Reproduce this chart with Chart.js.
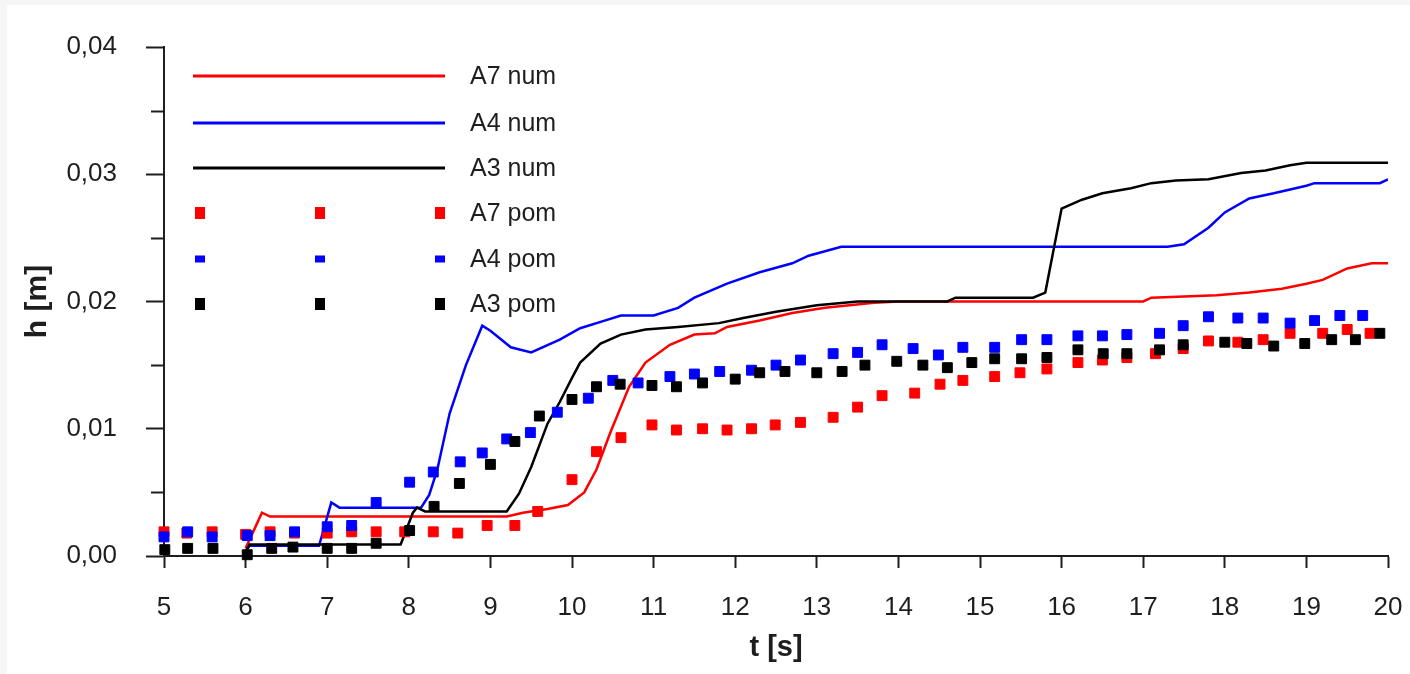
<!DOCTYPE html>
<html>
<head>
<meta charset="utf-8">
<script src="https://cdn.jsdelivr.net/npm/chart.js@4.4.0/dist/chart.umd.min.js"></script>
<style>
  html, body { margin: 0; padding: 0; background: #fff; }
  #wrap { width: 1410px; height: 674px; }
</style>
</head>
<body>
<div id="wrap"><canvas id="hChart" width="1410" height="674"></canvas></div>
<script>
// t [s] / h [m] - numericke krivky
var a7NumT = [6.0, 6.2, 6.3, 9.2, 9.4, 9.7, 9.95, 10.15, 10.3, 10.47, 10.7, 10.9, 11.2, 11.5, 11.75, 11.9, 12.3, 12.7, 13.1, 13.7, 14.0, 17.0, 17.1, 17.9, 18.3, 18.7, 19.0, 19.2, 19.5, 19.8, 20.0];
var a7NumH = [0.0006, 0.0034, 0.0031, 0.0031, 0.0034, 0.0037, 0.0040, 0.0050, 0.0068, 0.0097, 0.0133, 0.0152, 0.0166, 0.0174, 0.0175, 0.0180, 0.0185, 0.0191, 0.0195, 0.0199, 0.0200, 0.0200, 0.0203, 0.0205, 0.0207, 0.0210, 0.0214, 0.0217, 0.0226, 0.0230, 0.0230];

var a4NumT = [6.0, 6.05, 6.9, 7.05, 7.15, 8.15, 8.25, 8.35, 8.5, 8.7, 8.9, 9.0, 9.25, 9.5, 9.85, 10.1, 10.4, 10.6, 11.0, 11.3, 11.5, 11.9, 12.3, 12.7, 12.9, 13.3, 17.3, 17.5, 17.8, 18.0, 18.3, 18.6, 19.0, 19.1, 19.9, 20.0];
var a4NumH = [0.0004, 0.0008, 0.0008, 0.0042, 0.0038, 0.0038, 0.0048, 0.0068, 0.0112, 0.0150, 0.0181, 0.0177, 0.0164, 0.0160, 0.0170, 0.0179, 0.0185, 0.0189, 0.0189, 0.0195, 0.0203, 0.0214, 0.0223, 0.0230, 0.0236, 0.0243, 0.0243, 0.0245, 0.0258, 0.0270, 0.0281, 0.0285, 0.0291, 0.0293, 0.0293, 0.0296];

var a3NumT = [6.0, 6.05, 7.9, 8.05, 8.1, 8.2, 9.2, 9.35, 9.5, 9.7, 9.85, 10.0, 10.1, 10.35, 10.6, 10.9, 11.3, 11.8, 12.1, 12.5, 13.0, 13.5, 14.6, 14.7, 15.65, 15.8, 16.0, 16.25, 16.5, 16.85, 17.1, 17.4, 17.8, 18.2, 18.5, 18.8, 19.0, 20.0];
var a3NumH = [0.0003, 0.0009, 0.0009, 0.0034, 0.0038, 0.0035, 0.0035, 0.0049, 0.0070, 0.0104, 0.0121, 0.0140, 0.0152, 0.0167, 0.0174, 0.0178, 0.0180, 0.0183, 0.0187, 0.0192, 0.0197, 0.0200, 0.0200, 0.0203, 0.0203, 0.0207, 0.0273, 0.0280, 0.0285, 0.0289, 0.0293, 0.0295, 0.0296, 0.0301, 0.0303, 0.0307, 0.0309, 0.0309];

// mereni (pom)
var a7PomT = [5.0, 5.28, 5.59, 6.0, 6.3, 6.6, 7.0, 7.3, 7.6, 7.95, 8.3, 8.6, 8.96, 9.3, 9.58, 10.0, 10.3, 10.6, 10.98, 11.28, 11.6, 11.9, 12.2, 12.49, 12.8, 13.2, 13.5, 13.8, 14.2, 14.51, 14.79, 15.18, 15.49, 15.82, 16.2, 16.5, 16.8, 17.15, 17.49, 17.8, 18.16, 18.47, 18.8, 19.2, 19.5, 19.78];
var a7PomH = [0.0019, 0.0018, 0.0019, 0.0017, 0.0019, 0.0018, 0.0018, 0.0019, 0.0019, 0.0019, 0.0019, 0.0018, 0.0024, 0.0024, 0.0035, 0.0060, 0.0082, 0.0093, 0.0103, 0.0099, 0.0100, 0.0099, 0.0100, 0.0103, 0.0105, 0.0109, 0.0117, 0.0126, 0.0128, 0.0135, 0.0138, 0.0141, 0.0144, 0.0147, 0.0152, 0.0154, 0.0156, 0.0159, 0.0163, 0.0169, 0.0168, 0.0170, 0.0175, 0.0175, 0.0178, 0.0175];

var a4PomT = [5.0, 5.29, 5.59, 6.02, 6.3, 6.6, 7.0, 7.3, 7.6, 8.01, 8.3, 8.63, 8.9, 9.2, 9.49, 9.82, 10.2, 10.5, 10.81, 11.2, 11.5, 11.81, 12.2, 12.5, 12.8, 13.2, 13.5, 13.8, 14.18, 14.49, 14.79, 15.18, 15.51, 15.82, 16.2, 16.5, 16.8, 17.2, 17.49, 17.8, 18.16, 18.47, 18.8, 19.1, 19.41, 19.69];
var a4PomH = [0.0015, 0.0019, 0.0015, 0.0016, 0.0016, 0.0019, 0.0023, 0.0024, 0.0042, 0.0058, 0.0066, 0.0074, 0.0081, 0.0092, 0.0097, 0.0113, 0.0124, 0.0138, 0.0136, 0.0141, 0.0143, 0.0145, 0.0146, 0.0150, 0.0154, 0.0159, 0.0160, 0.0166, 0.0163, 0.0158, 0.0164, 0.0164, 0.0170, 0.0170, 0.0173, 0.0173, 0.0174, 0.0175, 0.0181, 0.0188, 0.0187, 0.0187, 0.0183, 0.0185, 0.0189, 0.0189];

var a3PomT = [5.01, 5.29, 5.6, 6.02, 6.32, 6.58, 7.0, 7.3, 7.6, 8.01, 8.31, 8.62, 9.0, 9.3, 9.6, 10.0, 10.3, 10.59, 10.98, 11.28, 11.6, 12.0, 12.3, 12.61, 13.0, 13.31, 13.59, 13.98, 14.3, 14.6, 14.9, 15.18, 15.51, 15.82, 16.2, 16.51, 16.8, 17.2, 17.49, 18.0, 18.27, 18.6, 18.98, 19.31, 19.6, 19.9];
var a3PomH = [0.0005, 0.0006, 0.0006, 0.0001, 0.0006, 0.0007, 0.0006, 0.0006, 0.0010, 0.0020, 0.0039, 0.0057, 0.0072, 0.0090, 0.0110, 0.0123, 0.0133, 0.0135, 0.0134, 0.0133, 0.0136, 0.0139, 0.0144, 0.0145, 0.0144, 0.0145, 0.0150, 0.0153, 0.0150, 0.0148, 0.0152, 0.0155, 0.0155, 0.0156, 0.0162, 0.0159, 0.0159, 0.0162, 0.0166, 0.0168, 0.0167, 0.0165, 0.0167, 0.0170, 0.0170, 0.0175];

var seriesLabels = ['A7 num', 'A4 num', 'A3 num', 'A7 pom', 'A4 pom', 'A3 pom'];
var seriesColors = ['#ff0000', '#0000ff', '#000000'];
var yMinorTicks = [0.005, 0.015, 0.025, 0.035];

var FONT = '"Liberation Sans", Arial, sans-serif';
var INK = '#1e1e1e';

function pts(t, h) {
  return t.map(function (v, i) { return { x: v, y: h[i] }; });
}

function numSet(i, t, h) {
  return {
    label: seriesLabels[i], data: pts(t, h), showLine: true,
    borderColor: seriesColors[i], borderWidth: 2.5, pointRadius: 0,
    tension: 0, order: 5 - i
  };
}

function pomSet(i, t, h) {
  return {
    label: seriesLabels[i + 3], data: pts(t, h), showLine: false,
    pointStyle: 'rect', pointRadius: 7, pointBorderWidth: 1,
    backgroundColor: seriesColors[i], borderColor: seriesColors[i],
    clip: 10, order: 2 - i
  };
}

// pozadi + vedlejsi ticky na ose y
var framePlugin = {
  id: 'frame',
  beforeDraw: function (chart) {
    var c = chart.ctx;
    c.save();
    c.fillStyle = '#ffffff';
    c.fillRect(0, 0, chart.width, chart.height);
    c.fillStyle = '#f6f6f6';
    c.fillRect(0, 0, chart.width, 5);
    c.fillRect(0, 0, 7, chart.height);
    c.restore();
  },
  afterDraw: function (chart) {
    var c = chart.ctx, ys = chart.scales.y;
    c.save();
    c.strokeStyle = INK;
    c.lineWidth = 2;
    yMinorTicks.forEach(function (v) {
      var py = Math.round(ys.getPixelForValue(v)) + 0.5;
      c.beginPath();
      c.moveTo(ys.right - 13, py);
      c.lineTo(ys.right, py);
      c.stroke();
    });
    c.restore();
  }
};

// legenda uvnitr grafu
var legendPlugin = {
  id: 'boxLegend',
  afterDraw: function (chart) {
    var c = chart.ctx;
    var lineY = [76, 123, 168];
    var markY = [213, 259, 304];
    var markX = [200, 320, 440];
    c.save();
    c.font = '25px ' + FONT;
    c.textBaseline = 'middle';
    c.textAlign = 'left';
    for (var i = 0; i < 3; i++) {
      c.strokeStyle = seriesColors[i];
      c.lineWidth = 3;
      c.beginPath();
      c.moveTo(193, lineY[i]);
      c.lineTo(445, lineY[i]);
      c.stroke();
      c.fillStyle = INK;
      c.fillText(seriesLabels[i], 470, lineY[i] + 1);

      c.fillStyle = seriesColors[i];
      var hgt = i === 1 ? 7 : 12;
      markX.forEach(function (mx) {
        c.fillRect(mx - 5, markY[i] - hgt / 2, 10, hgt);
      });
      c.fillStyle = INK;
      c.fillText(seriesLabels[i + 3], 470, markY[i] + 1);
    }
    c.restore();
  }
};

var ctx = document.getElementById('hChart').getContext('2d');
var hChart = new Chart(ctx, {
  type: 'scatter',
  data: {
    datasets: [
      numSet(0, a7NumT, a7NumH),
      numSet(1, a4NumT, a4NumH),
      numSet(2, a3NumT, a3NumH),
      pomSet(0, a7PomT, a7PomH),
      pomSet(1, a4PomT, a4PomH),
      pomSet(2, a3PomT, a3PomH)
    ]
  },
  options: {
    responsive: false,
    animation: false,
    layout: { padding: { top: 47, right: 22, left: 0, bottom: 0 } },
    plugins: { legend: { display: false }, tooltip: { enabled: false } },
    scales: {
      x: {
        type: 'linear', min: 5, max: 20,
        afterFit: function (s) { s.height = 118; s.paddingLeft = 0; s.paddingRight = 0; },
        ticks: { stepSize: 1, padding: 24, color: INK, font: { family: FONT, size: 26 } },
        grid: { drawOnChartArea: false, drawTicks: true, tickLength: 12, tickWidth: 2, tickColor: INK },
        border: { display: true, color: INK, width: 2 },
        title: { display: true, text: 't [s]', color: INK, padding: { top: 0, bottom: 9 }, font: { family: FONT, size: 29, weight: 'bold' } }
      },
      y: {
        type: 'linear', min: 0, max: 0.04,
        afterFit: function (s) { s.width = 164; s.paddingTop = 0; s.paddingBottom = 0; },
        ticks: {
          stepSize: 0.01, padding: 29, color: INK, font: { family: FONT, size: 26 },
          callback: function (v) { return v.toFixed(2).replace('.', ','); }
        },
        grid: { drawOnChartArea: false, drawTicks: true, tickLength: 18, tickWidth: 2, tickColor: INK },
        border: { display: true, color: INK, width: 2 },
        title: { display: true, text: 'h [m]', color: INK, padding: { top: 20, bottom: 0 }, font: { family: FONT, size: 30, weight: 'bold' } }
      }
    }
  },
  plugins: [framePlugin, legendPlugin]
});
</script>
</body>
</html>
